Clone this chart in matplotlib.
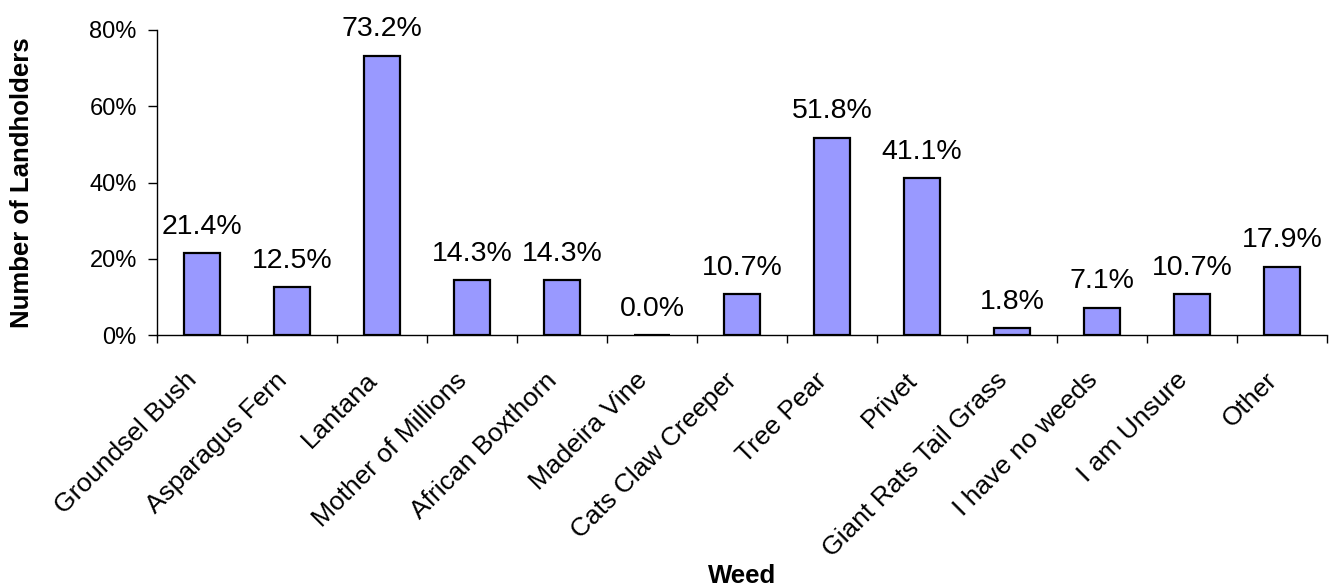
import matplotlib.pyplot as plt
import numpy as np

plt.rcParams['font.family'] = ['Liberation Sans', 'DejaVu Sans']

# Weed survey results
weeds = ['Groundsel Bush', 'Asparagus Fern', 'Lantana', 'Mother of Millions',
         'African Boxthorn', 'Madeira Vine', 'Cats Claw Creeper', 'Tree Pear',
         'Privet', 'Giant Rats Tail Grass', 'I have no weeds', 'I am Unsure', 'Other']
percent = [21.4, 12.5, 73.2, 14.3, 14.3, 0.0, 10.7, 51.8, 41.1, 1.8, 7.1, 10.7, 17.9]
yticks = [0, 20, 40, 60, 80]

fig = plt.figure(figsize=(13.3, 5.86), dpi=100)
ax = fig.add_axes([157 / 1330, 1 - 335 / 586, 1170 / 1330, 305 / 586])

x = np.arange(len(weeds))
bars = ax.bar(x, percent, width=0.41, color='#9999FF', edgecolor='black', linewidth=1.6)

for xi, v in zip(x, percent):
    ax.annotate(f'{v:.1f}%', (xi, v), xytext=(0, 14), textcoords='offset points',
                ha='center', va='baseline', fontsize=20.5)

ax.set_xlim(-0.5, len(weeds) - 0.5)
ax.set_ylim(0, 80)
ax.set_yticks(yticks)
ax.set_yticklabels([f'{t}%' for t in yticks], fontsize=17)

ax.set_xticks(x)
ax.set_xticklabels(weeds, rotation=45, ha='right', va='bottom',
                   rotation_mode='anchor', fontsize=19)
ax.set_xticks(np.arange(len(weeds) + 1) - 0.5, minor=True)
ax.tick_params(axis='x', which='major', length=0, pad=36)
ax.tick_params(axis='x', which='minor', length=6, width=1, direction='out')
ax.tick_params(axis='y', length=6.5, width=1, direction='out', pad=8)

for side in ['top', 'right']:
    ax.spines[side].set_visible(False)
ax.spines['left'].set_linewidth(1)
ax.spines['bottom'].set_linewidth(1)

ax.set_ylabel('Number of Landholders', fontsize=18.5, fontweight='bold', va='center')
ax.yaxis.set_label_coords(-0.1154, 0.5)
ax.set_xlabel('Weed', fontsize=18.5, fontweight='bold', va='center')
ax.xaxis.set_label_coords(0.5, -0.79)

fig.savefig('out.png', dpi=100)
